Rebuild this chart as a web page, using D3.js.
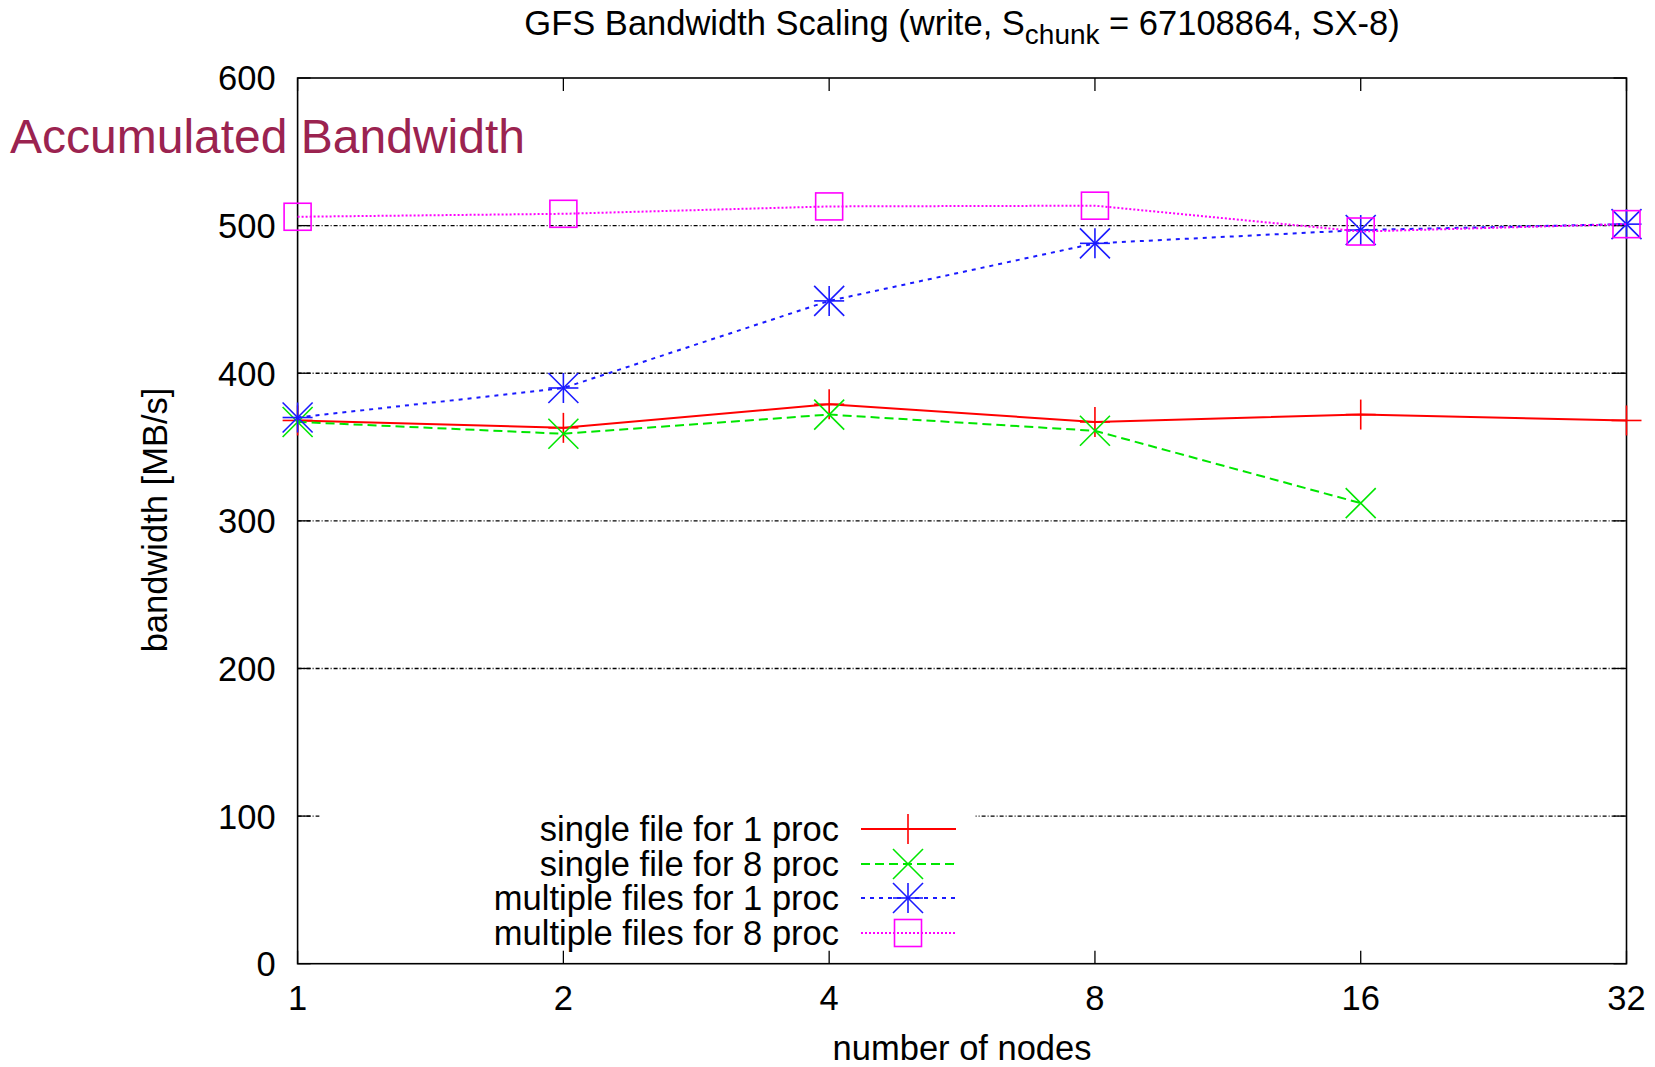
<!DOCTYPE html>
<html>
<head>
<meta charset="utf-8">
<script src="https://cdn.jsdelivr.net/npm/d3@7"></script>
<style>
  body { margin: 0; background: #fff; }
  text { font-family: "Liberation Sans", Arial, sans-serif; fill: #000; }
</style>
</head>
<body>
<div id="chart-area"></div>
<script>
var margin = {left: 297.6, right: 28.5, top: 78, bottom: 103.3};
var width = 1655 - margin.left - margin.right,
    height = 1067 - margin.top - margin.bottom;

// data
var nodes = [1, 2, 4, 8, 16, 32];
var yTicks = [0, 100, 200, 300, 400, 500, 600];
var singleFile1 = [368, 363, 379, 367, 372, 368];
var singleFile8 = [367, 359, 372, 361, 312];
var multiFiles1 = [370, 390, 449, 488, 497, 501];
var multiFiles8 = [506, 508, 513, 513.5, 496, 501];

var seriesNames = ["single file for 1 proc", "single file for 8 proc",
                   "multiple files for 1 proc", "multiple files for 8 proc"];
var seriesValues = [singleFile1, singleFile8, multiFiles1, multiFiles8];
var colors = ["#ff0000", "#00e600", "#1a1aff", "#ff00ff"];
var dashes = [null, "9,5", "4,5", "2,2"];
var markers = ["plus", "cross", "star", "square"];

var fontSize = "34.5px";

var svg = d3.select("#chart-area")
    .append("svg")
    .attr("width", 1655)
    .attr("height", 1067);

var g = svg.append("g")
    .attr("transform", "translate(" + margin.left + "," + margin.top + ")");

var x = d3.scaleLog().base(2)
    .domain([1, 32])
    .range([0, width]);

var y = d3.scaleLinear()
    .domain([0, 600])
    .range([height, 0]);

// title
var title = svg.append("text")
    .attr("x", margin.left + width / 2)
    .attr("y", 35)
    .attr("text-anchor", "middle")
    .style("font-size", "34.5px");
title.append("tspan").text("GFS Bandwidth Scaling (write, S");
title.append("tspan").attr("dy", 9).style("font-size", "28px").text("chunk");
title.append("tspan").attr("dy", -9).text(" = 67108864, SX-8)");

// grid lines
g.selectAll(".grid")
    .data(yTicks.filter(function (d) { return d > 0 && d < 600; }))
    .enter()
    .append("line")
    .attr("class", "grid")
    .attr("x1", 0)
    .attr("x2", width)
    .attr("y1", function (d) { return y(d); })
    .attr("y2", function (d) { return y(d); })
    .attr("stroke", "#000")
    .attr("stroke-width", 1.4)
    .attr("stroke-dasharray", "4,2,1,2");

// key background hides the grid under the legend
g.append("rect")
    .attr("x", 22)
    .attr("y", y(100) - 25)
    .attr("width", 656)
    .attr("height", 160)
    .attr("fill", "#fff");

// ticks on all four sides, pointing inwards
var tickLen = 13;
yTicks.forEach(function (d) {
    g.append("line").attr("x1", 0).attr("x2", tickLen)
        .attr("y1", y(d)).attr("y2", y(d)).attr("stroke", "#000").attr("stroke-width", 1.3);
    g.append("line").attr("x1", width - tickLen).attr("x2", width)
        .attr("y1", y(d)).attr("y2", y(d)).attr("stroke", "#000").attr("stroke-width", 1.3);
    g.append("text")
        .attr("x", -22)
        .attr("y", y(d))
        .attr("dy", "0.36em")
        .attr("text-anchor", "end")
        .style("font-size", fontSize)
        .text(d);
});
nodes.forEach(function (d) {
    g.append("line").attr("x1", x(d)).attr("x2", x(d))
        .attr("y1", height).attr("y2", height - tickLen).attr("stroke", "#000").attr("stroke-width", 1.3);
    g.append("line").attr("x1", x(d)).attr("x2", x(d))
        .attr("y1", 0).attr("y2", tickLen).attr("stroke", "#000").attr("stroke-width", 1.3);
    g.append("text")
        .attr("x", x(d))
        .attr("y", height + 46)
        .attr("text-anchor", "middle")
        .style("font-size", fontSize)
        .text(d);
});

// frame
g.append("rect")
    .attr("x", 0).attr("y", 0)
    .attr("width", width).attr("height", height)
    .attr("fill", "none")
    .attr("stroke", "#000")
    .attr("stroke-width", 1.6);

// axis labels
svg.append("text")
    .attr("x", margin.left + width / 2)
    .attr("y", 1060)
    .attr("text-anchor", "middle")
    .style("font-size", fontSize)
    .text("number of nodes");

svg.append("text")
    .attr("transform", "translate(167,520) rotate(-90)")
    .attr("text-anchor", "middle")
    .style("font-size", fontSize)
    .text("bandwidth [MB/s]");

svg.append("text")
    .attr("x", 10)
    .attr("y", 153)
    .style("font-size", "48px")
    .style("fill", "#9b2350")
    .text("Accumulated Bandwidth");

// marker drawing
function drawMarker(sel, type, cx, cy, color) {
    var r = 15;
    var m = sel.append("g").attr("transform", "translate(" + cx + "," + cy + ")")
        .attr("stroke", color).attr("stroke-width", 1.6).attr("fill", "none");
    if (type == "plus" || type == "star") {
        m.append("line").attr("x1", -r).attr("x2", r).attr("y1", 0).attr("y2", 0);
        m.append("line").attr("x1", 0).attr("x2", 0).attr("y1", -r).attr("y2", r);
    }
    if (type == "cross" || type == "star") {
        m.append("line").attr("x1", -r).attr("x2", r).attr("y1", -r).attr("y2", r);
        m.append("line").attr("x1", -r).attr("x2", r).attr("y1", r).attr("y2", -r);
    }
    if (type == "square") {
        m.append("rect").attr("x", -13.5).attr("y", -13.5).attr("width", 27).attr("height", 27);
    }
}

var line = d3.line()
    .x(function (d) { return x(d.n); })
    .y(function (d) { return y(d.v); });

seriesValues.forEach(function (vals, i) {
    var pts = vals.map(function (v, j) { return {n: nodes[j], v: v}; });
    g.append("path")
        .datum(pts)
        .attr("d", line)
        .attr("fill", "none")
        .attr("stroke", colors[i])
        .attr("stroke-width", 2)
        .attr("stroke-dasharray", dashes[i]);
    pts.forEach(function (p) {
        drawMarker(g, markers[i], x(p.n), y(p.v), colors[i]);
    });
});

// legend
var legendY = [829, 864, 898, 933];
seriesNames.forEach(function (name, i) {
    svg.append("text")
        .attr("x", 839)
        .attr("y", legendY[i])
        .attr("dy", "0.36em")
        .attr("text-anchor", "end")
        .style("font-size", fontSize)
        .text(name);
    svg.append("line")
        .attr("x1", 861).attr("x2", 956)
        .attr("y1", legendY[i]).attr("y2", legendY[i])
        .attr("stroke", colors[i])
        .attr("stroke-width", 2)
        .attr("stroke-dasharray", dashes[i]);
    drawMarker(svg, markers[i], 908, legendY[i], colors[i]);
});
</script>
</body>
</html>
